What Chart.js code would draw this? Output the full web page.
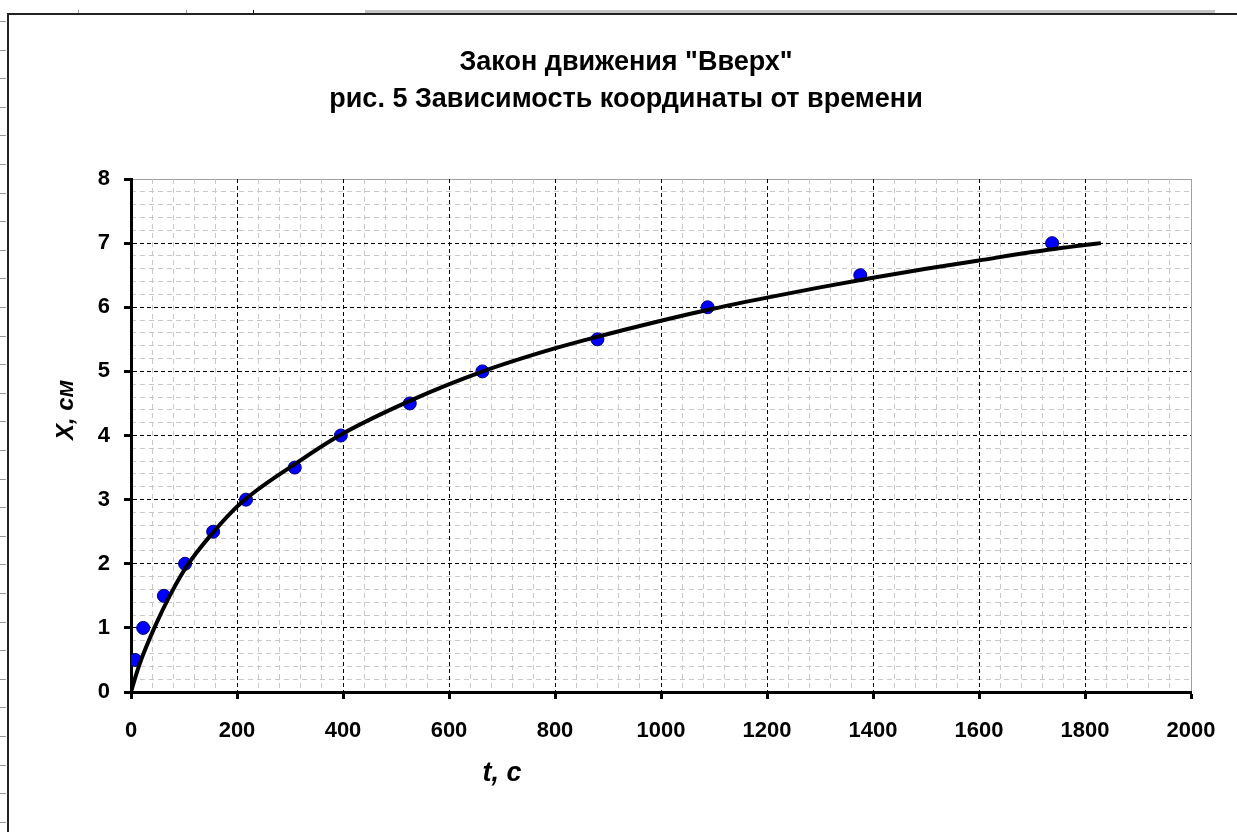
<!DOCTYPE html>
<html>
<head>
<meta charset="utf-8">
<script src="https://cdn.jsdelivr.net/npm/chart.js@4/dist/chart.umd.min.js"></script>
<style>
  html, body { margin: 0; padding: 0; background: #fff; }
  canvas { display: block; }
</style>
</head>
<body>
<canvas id="chart" width="1237" height="832"></canvas>
<script>
// measured points: time t (s) and coordinate X (cm)
var tPoints = [8, 23, 62, 102, 155, 217, 309, 396, 526, 663, 880, 1088, 1376, 1738];
var xPoints = [0.5, 1, 1.5, 2, 2.5, 3, 3.5, 4, 4.5, 5, 5.5, 6, 6.5, 7];
// trend line
var tTrend = [0, 10, 20, 44, 73, 105, 153, 208, 312, 391, 526, 664, 796, 880, 1000, 1100, 1200, 1300, 1400, 1500, 1600, 1700, 1800, 1830];
var xTrend = [0, 0.28, 0.52, 1.0, 1.5, 1.96, 2.47, 2.95, 3.57, 3.99, 4.54, 5.0, 5.35, 5.54, 5.79, 5.98, 6.15, 6.31, 6.46, 6.6, 6.73, 6.86, 6.97, 7.0];

var titleLines = ['Закон движения "Вверх"', 'рис. 5 Зависимость координаты от времени'];
var xTitle = 't, c';
var yTitle = 'X, см';

var FONT = '"Liberation Sans", Arial, sans-serif';
Chart.defaults.font.family = FONT;

function zip(a, b) {
  var out = [];
  for (var i = 0; i < a.length; i++) out.push({x: a[i], y: b[i]});
  return out;
}

function isMult(v, step) {
  var r = v / step;
  return Math.abs(r - Math.round(r)) < 1e-6;
}

var decor = {
  id: 'decor',
  beforeDraw: function(chart) {
    var ctx = chart.ctx, a = chart.chartArea;
    ctx.save();
    ctx.fillStyle = '#fff';
    ctx.fillRect(0, 0, chart.width, chart.height);
    // bits of the spreadsheet around the chart object
    ctx.fillStyle = '#c4c4c4';
    ctx.fillRect(365, 10, 850, 4);
    ctx.fillStyle = '#999';
    for (var yy = 21; yy < 832; yy += 28.6) ctx.fillRect(0, Math.round(yy), 6, 1);
    ctx.fillRect(78, 10, 1, 4);
    ctx.fillRect(186, 10, 1, 4);
    ctx.fillStyle = '#000';
    ctx.fillRect(253, 10, 1, 4);
    // chart frame
    ctx.strokeStyle = '#222';
    ctx.lineWidth = 2;
    ctx.beginPath();
    ctx.moveTo(8, 832);
    ctx.lineTo(8, 14);
    ctx.lineTo(1237, 14);
    ctx.stroke();
    // plot area border
    ctx.strokeStyle = '#a0a0a0';
    ctx.lineWidth = 1;
    ctx.strokeRect(a.left + 0.5, a.top + 0.5, a.right - a.left, a.bottom - a.top);
    ctx.restore();
  },
  afterDraw: function(chart) {
    var ctx = chart.ctx, a = chart.chartArea;
    ctx.save();
    ctx.fillStyle = '#000';
    ctx.textAlign = 'center';
    ctx.textBaseline = 'middle';
    ctx.font = 'bold 27px ' + FONT;
    ctx.fillText(titleLines[0], 626, 63);
    ctx.fillText(titleLines[1], 626, 100);
    ctx.font = 'italic bold 27px ' + FONT;
    ctx.fillText(xTitle, chart.scales.x.getPixelForValue(700), 774);
    ctx.font = 'italic bold 24px ' + FONT;
    ctx.translate(a.left - 65, chart.scales.y.getPixelForValue(4.4));
    ctx.rotate(-Math.PI / 2);
    ctx.fillText(yTitle, 0, 0);
    ctx.restore();
  }
};

var tickFont = {size: 22, weight: 'bold'};
function plain(v) { return String(v); }

new Chart(document.getElementById('chart'), {
  type: 'scatter',
  data: {
    datasets: [
      {
        label: 'trend',
        data: zip(tTrend, xTrend),
        showLine: true,
        borderColor: '#000',
        borderWidth: 4,
        pointRadius: 0,
        cubicInterpolationMode: 'monotone',
        fill: false
      },
      {
        label: 'X',
        data: zip(tPoints, xPoints),
        pointRadius: 6.5,
        pointBackgroundColor: '#0000ff',
        pointBorderColor: '#000080',
        pointBorderWidth: 1
      }
    ]
  },
  options: {
    responsive: false,
    animation: false,
    devicePixelRatio: 1,
    layout: {padding: {top: 179, right: 46, bottom: 0, left: 0}},
    plugins: {legend: {display: false}, tooltip: {enabled: false}, title: {display: false}},
    scales: {
      xm: {
        type: 'linear', position: 'bottom', min: 0, max: 2000,
        ticks: {display: false, stepSize: 40, z: -1},
        grid: {drawTicks: false, z: -1, lineWidth: 1,
          color: function(c) { return isMult(c.tick.value, 200) ? 'rgba(0,0,0,0)' : '#c8c8c8'; }},
        border: {display: false, dash: [5, 4], z: -1},
        afterFit: function(s) { s.height = 0; }
      },
      ym: {
        type: 'linear', position: 'left', min: 0, max: 8,
        ticks: {display: false, stepSize: 0.2, z: -1},
        grid: {drawTicks: false, z: -1, lineWidth: 1,
          color: function(c) { return isMult(c.tick.value, 1) ? 'rgba(0,0,0,0)' : '#c8c8c8'; }},
        border: {display: false, dash: [5, 4], z: -1},
        afterFit: function(s) { s.width = 0; }
      },
      x: {
        type: 'linear', position: 'bottom', min: 0, max: 2000,
        ticks: {stepSize: 200, color: '#000', font: tickFont, padding: 19, maxRotation: 0, autoSkip: false, callback: plain},
        grid: {lineWidth: 1, tickLength: 7, tickWidth: 3, tickColor: '#000',
          color: function(c) { return c.tick.value === 2000 ? 'rgba(0,0,0,0)' : '#000'; }},
        border: {color: '#000', width: 3, dash: [4, 3]},
        afterFit: function(s) { s.height = 140; }
      },
      y: {
        type: 'linear', position: 'left', min: 0, max: 8,
        ticks: {stepSize: 1, color: '#000', font: tickFont, padding: 14, callback: plain},
        grid: {lineWidth: 1, tickLength: 7, tickWidth: 3, tickColor: '#000',
          color: function(c) { return c.tick.value === 8 ? 'rgba(0,0,0,0)' : '#000'; }},
        border: {color: '#000', width: 3, dash: [4, 3]},
        afterFit: function(s) { s.width = 131; }
      }
    }
  },
  plugins: [decor]
});
</script>
</body>
</html>
